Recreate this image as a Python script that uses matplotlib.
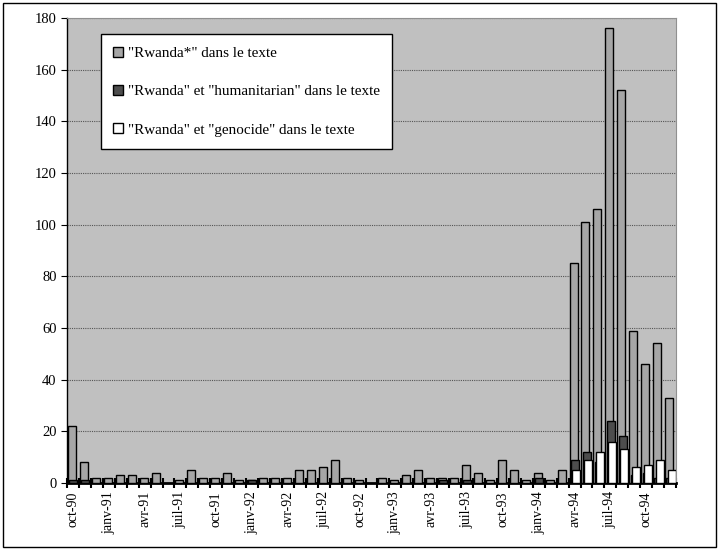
import numpy as np
import matplotlib
matplotlib.use('Agg')
import matplotlib.pyplot as plt
from matplotlib.patches import Rectangle

plt.rcParams['font.family'] = ['Liberation Serif', 'DejaVu Serif']

# Nombre d'articles par mois, oct-90 -> déc-94
rwanda = [22, 8, 2, 2, 3, 3, 2, 4, 0, 1, 5, 2, 2, 4, 1, 1, 2, 2, 2, 5, 5, 6, 9, 2, 1, 0, 2,
          1, 3, 5, 2, 2, 2, 7, 4, 1, 9, 5, 1, 4, 1, 5,
          85, 101, 106, 176, 152, 59, 46, 54, 33]
humanitarian = [1, 1, 0, 0, 0, 0, 0, 0, 0, 0, 0, 0, 0, 0, 0, 1, 0, 0, 0, 0, 0, 0, 0, 0, 0, 0, 0,
                0, 0, 0, 0, 1, 0, 1, 0, 0, 0, 0, 0, 2, 0, 0,
                9, 12, 8, 24, 18, 3, 4, 2, 2]
genocide = [0] * 42 + [5, 9, 12, 16, 13, 6, 7, 9, 5]

tick_labels = ['oct-90', 'janv-91', 'avr-91', 'juil-91', 'oct-91', 'janv-92', 'avr-92',
               'juil-92', 'oct-92', 'janv-93', 'avr-93', 'juil-93', 'oct-93', 'janv-94',
               'avr-94', 'juil-94', 'oct-94']

series = [
    (rwanda, '"Rwanda*" dans le texte', '#a6a6a6', 0.08),
    (humanitarian, '"Rwanda" et "humanitarian" dans le texte', '#4d4d4d', 0.19),
    (genocide, '"Rwanda" et "genocide" dans le texte', '#ffffff', 0.30),
]

fig = plt.figure(figsize=(7.2, 5.5), dpi=100)
ax = fig.add_axes([0.093, 0.122, 0.846, 0.845])
ax.set_facecolor('#c0c0c0')

n = len(rwanda)
x = np.arange(n)
for k, (vals, label, color, off) in enumerate(series):
    v = np.array(vals, dtype=float)
    m = v > 0
    ax.bar(x[m] + off, v[m], width=0.67, align='edge', color=color,
           edgecolor='black', linewidth=1.0, zorder=3 + k, label=label)

ax.set_xlim(0, n)
ax.set_ylim(0, 180)
ax.set_yticks(np.arange(0, 181, 20))
ax.yaxis.grid(True, color='#555555', linestyle=(0, (1, 1)), linewidth=0.8, zorder=1)
ax.set_axisbelow(True)

# graduations à chaque mois, étiquettes tous les 3 mois
ax.set_xticks(np.arange(0, n + 1), minor=True)
ax.set_xticks(np.arange(0, n, 3) + 0.5)
ax.set_xticklabels(tick_labels, rotation=90, fontsize=10)
ax.tick_params(axis='x', which='major', length=0, pad=6)
ax.tick_params(axis='x', which='minor', direction='inout', length=7, width=1.5)
ax.tick_params(axis='y', which='major', direction='out', length=4, labelsize=10.5)

for side in ['top', 'right']:
    ax.spines[side].set_color('#909090')
    ax.spines[side].set_linewidth(0.8)
ax.spines['bottom'].set_linewidth(2)
ax.spines['left'].set_linewidth(1)

leg = ax.legend(loc='upper left', bbox_to_anchor=(0.056, 0.965), fontsize=10.9,
                frameon=True, fancybox=False, edgecolor='black', framealpha=1,
                handlelength=0.65, handleheight=0.65, handletextpad=0.35,
                labelspacing=1.65, borderpad=0.8, borderaxespad=0)
leg.get_frame().set_linewidth(1)
leg.set_zorder(10)

fig.patches.append(Rectangle((0.004, 0.005), 0.991, 0.99, transform=fig.transFigure,
                             fill=False, edgecolor='black', linewidth=1))

fig.savefig('out.png', dpi=100)
